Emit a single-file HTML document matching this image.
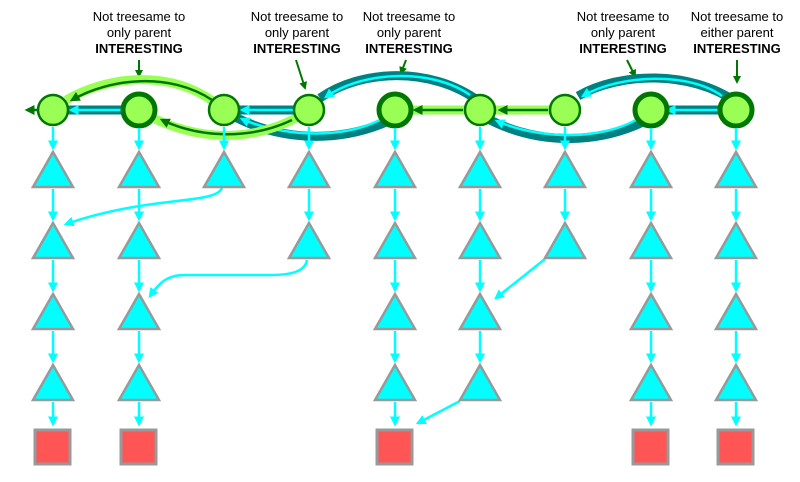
<!DOCTYPE html>
<html><head><meta charset="utf-8"><style>body{margin:0;background:#fff}svg{display:block}</style></head><body>
<svg width="800" height="482" viewBox="0 0 800 482" xmlns="http://www.w3.org/2000/svg" font-family="Liberation Sans, sans-serif">
<defs>
<marker id="c" markerWidth="4" markerHeight="4" refX="3" refY="2" orient="auto" markerUnits="strokeWidth"><path d="M0,0 L4,2 L0,4 z" fill="#00ffff"/></marker>
<marker id="g" markerWidth="4" markerHeight="4" refX="3" refY="2" orient="auto" markerUnits="strokeWidth"><path d="M0,0 L4,2 L0,4 z" fill="#007700"/></marker>
</defs>
<!-- labels -->
<g font-size="13" text-anchor="middle" fill="#000">
<text x="139" y="21">Not treesame to</text><text x="139" y="37">only parent</text><text x="139" y="53" font-weight="bold">INTERESTING</text>
<text x="297" y="21">Not treesame to</text><text x="297" y="37">only parent</text><text x="297" y="53" font-weight="bold">INTERESTING</text>
<text x="409" y="21">Not treesame to</text><text x="409" y="37">only parent</text><text x="409" y="53" font-weight="bold">INTERESTING</text>
<text x="623" y="21">Not treesame to</text><text x="623" y="37">only parent</text><text x="623" y="53" font-weight="bold">INTERESTING</text>
<text x="737" y="21">Not treesame to</text><text x="737" y="37">either parent</text><text x="737" y="53" font-weight="bold">INTERESTING</text>
</g>
<g stroke="#007700" stroke-width="2" fill="none" marker-end="url(#g)">
<line x1="139" y1="60" x2="139" y2="76"/>
<line x1="296" y1="60" x2="305" y2="88"/>
<line x1="406" y1="60" x2="401" y2="73"/>
<line x1="627" y1="60" x2="635" y2="76"/>
<line x1="737" y1="60" x2="737" y2="82"/>
</g>
<!-- teal edges -->
<g fill="none" stroke="#008080" stroke-width="9">
<line x1="139" y1="110" x2="60" y2="110"/>
<line x1="309" y1="110" x2="232" y2="110"/>
<line x1="736" y1="110" x2="660" y2="110"/>
<path d="M480,102 C430,65 360,70 320,98"/>
<path d="M395,118 C340,145 280,140 235,117"/>
<path d="M736,102 C690,70 620,72 578,96"/>
<path d="M651,118 C600,145 540,145 490,120"/>
</g>
<g fill="none" stroke="#00ffff" stroke-width="2.5" marker-end="url(#c)">
<line x1="125" y1="110" x2="71" y2="110"/>
<line x1="293" y1="110" x2="242" y2="110"/>
<line x1="718" y1="110" x2="668" y2="110"/>
<path d="M470,95 C430,67 360,72 326,97"/>
<path d="M380,120 C340,140 280,136 242,119"/>
<path d="M722,96 C690,72 620,74 583,96"/>
<path d="M636,120 C600,140 540,140 497,121"/>
</g>
<!-- green edges -->
<g fill="none" stroke="#99ff55" stroke-width="9">
<line x1="565" y1="110" x2="490" y2="110"/>
<line x1="480" y1="110" x2="405" y2="110"/>
<path d="M214,102 C170,70 110,75 66,100"/>
<path d="M296,118 C250,142 200,140 155,119"/>
</g>
<g fill="none" stroke="#007700" stroke-width="2.5" marker-end="url(#g)">
<line x1="548" y1="110" x2="500" y2="110"/>
<line x1="463" y1="110" x2="415" y2="110"/>
<path d="M212,100 C170,72 110,78 72,100"/>
<path d="M292,120 C250,140 200,138 162,120"/>
<line x1="37" y1="110" x2="27" y2="110"/>
</g>
<!-- circles -->
<g fill="#99ff55" stroke="#007700">
<circle cx="53" cy="110" r="15" stroke-width="2.5"/>
<circle cx="139" cy="110" r="16" stroke-width="5"/>
<circle cx="224" cy="110" r="15" stroke-width="2.5"/>
<circle cx="309" cy="110" r="15" stroke-width="2.5"/>
<circle cx="395" cy="110" r="16" stroke-width="5"/>
<circle cx="480" cy="110" r="15" stroke-width="2.5"/>
<circle cx="565" cy="110" r="15" stroke-width="2.5"/>
<circle cx="651" cy="110" r="16" stroke-width="5"/>
<circle cx="736" cy="110" r="16" stroke-width="5"/>
</g>
<!-- vertical cyan arrows -->
<g stroke="#00ffff" stroke-width="2.5" fill="none" marker-end="url(#c)">
<!-- circle to tri1 for all -->
<line x1="53" y1="127" x2="53" y2="148"/><line x1="139" y1="128" x2="139" y2="148"/><line x1="224" y1="127" x2="224" y2="148"/><line x1="309" y1="127" x2="309" y2="148"/><line x1="395" y1="128" x2="395" y2="148"/><line x1="480" y1="127" x2="480" y2="148"/><line x1="565" y1="127" x2="565" y2="148"/><line x1="651" y1="128" x2="651" y2="148"/><line x1="736" y1="128" x2="736" y2="148"/>
<!-- full columns -->
<line x1="53" y1="189" x2="53" y2="219"/><line x1="53" y1="260" x2="53" y2="290"/><line x1="53" y1="331" x2="53" y2="361"/><line x1="53" y1="402" x2="53" y2="424"/>
<line x1="139" y1="189" x2="139" y2="219"/><line x1="139" y1="260" x2="139" y2="290"/><line x1="139" y1="331" x2="139" y2="361"/><line x1="139" y1="402" x2="139" y2="424"/>
<line x1="395" y1="189" x2="395" y2="219"/><line x1="395" y1="260" x2="395" y2="290"/><line x1="395" y1="331" x2="395" y2="361"/><line x1="395" y1="402" x2="395" y2="424"/>
<line x1="651" y1="189" x2="651" y2="219"/><line x1="651" y1="260" x2="651" y2="290"/><line x1="651" y1="331" x2="651" y2="361"/><line x1="651" y1="402" x2="651" y2="424"/>
<line x1="736" y1="189" x2="736" y2="219"/><line x1="736" y1="260" x2="736" y2="290"/><line x1="736" y1="331" x2="736" y2="361"/><line x1="736" y1="402" x2="736" y2="424"/>
<line x1="309" y1="189" x2="309" y2="219"/>
<line x1="480" y1="189" x2="480" y2="219"/><line x1="480" y1="260" x2="480" y2="290"/><line x1="480" y1="331" x2="480" y2="361"/>
<line x1="565" y1="189" x2="565" y2="219"/>
<!-- cross curves -->
<path d="M222,188 C215,205 150,195 66,224"/>
<path d="M307,260 C305,272 290,275 270,275 L185,275 C165,275 158,285 150,296"/>
<line x1="545" y1="259" x2="496" y2="298"/>
<line x1="460" y1="401" x2="418" y2="423"/>
</g>
<!-- triangles -->
<g fill="#00ffff" stroke="#999" stroke-width="2.5">
<path d="M53,152 L33,187 L73,187 Z"/><path d="M53,223 L33,258 L73,258 Z"/><path d="M53,294 L33,329 L73,329 Z"/><path d="M53,365 L33,400 L73,400 Z"/>
<path d="M139,152 L119,187 L159,187 Z"/><path d="M139,223 L119,258 L159,258 Z"/><path d="M139,294 L119,329 L159,329 Z"/><path d="M139,365 L119,400 L159,400 Z"/>
<path d="M224,152 L204,187 L244,187 Z"/>
<path d="M309,152 L289,187 L329,187 Z"/><path d="M309,223 L289,258 L329,258 Z"/>
<path d="M395,152 L375,187 L415,187 Z"/><path d="M395,223 L375,258 L415,258 Z"/><path d="M395,294 L375,329 L415,329 Z"/><path d="M395,365 L375,400 L415,400 Z"/>
<path d="M480,152 L460,187 L500,187 Z"/><path d="M480,223 L460,258 L500,258 Z"/><path d="M480,294 L460,329 L500,329 Z"/><path d="M480,365 L460,400 L500,400 Z"/>
<path d="M565,152 L545,187 L585,187 Z"/><path d="M565,223 L545,258 L585,258 Z"/>
<path d="M651,152 L631,187 L671,187 Z"/><path d="M651,223 L631,258 L671,258 Z"/><path d="M651,294 L631,329 L671,329 Z"/><path d="M651,365 L631,400 L671,400 Z"/>
<path d="M736,152 L716,187 L756,187 Z"/><path d="M736,223 L716,258 L756,258 Z"/><path d="M736,294 L716,329 L756,329 Z"/><path d="M736,365 L716,400 L756,400 Z"/>
</g>
<g fill="#ff5555" stroke="#999" stroke-width="3">
<rect x="35" y="430" width="35" height="34"/>
<rect x="121" y="430" width="35" height="34"/>
<rect x="377" y="430" width="35" height="34"/>
<rect x="633" y="430" width="35" height="34"/>
<rect x="718" y="430" width="35" height="34"/>
</g>
</svg>
</body></html>
